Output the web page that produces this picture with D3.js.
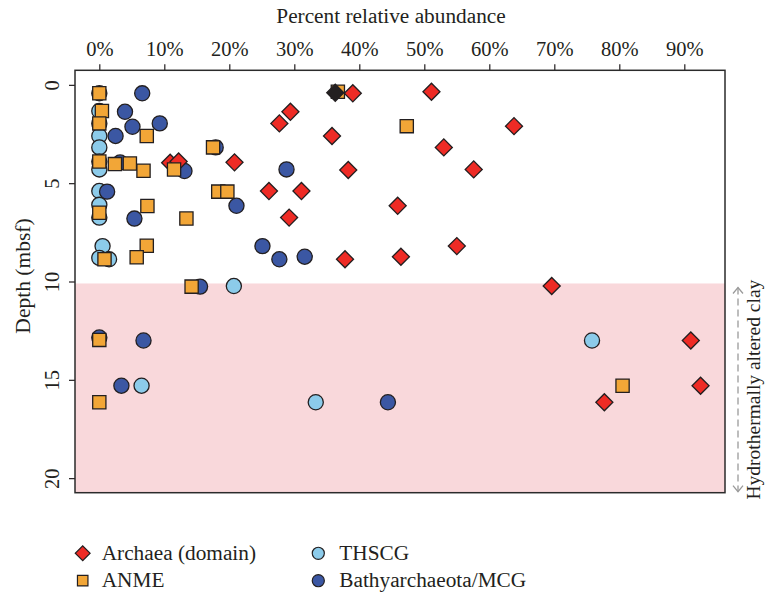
<!DOCTYPE html>
<html>
<head>
<meta charset="utf-8">
<script src="https://cdn.jsdelivr.net/npm/d3@7"></script>
<style>
  html, body { margin: 0; padding: 0; background: #fff; }
  svg { display: block; }
  text { font-family: "Liberation Serif", "DejaVu Serif", serif; fill: #231F20; }
</style>
</head>
<body>
<svg id="chart" width="765" height="592"></svg>
<script>
// Percent relative abundance (x) versus sample depth in mbsf (y)
const archaea = [
  [39.0, 0.43], [51.1, 0.35], [29.4, 1.37], [27.7, 1.96], [63.8, 2.10], [35.8, 2.60],
  [53.0, 3.18], [10.9, 3.96], [12.2, 3.90], [20.8, 3.94], [38.3, 4.33], [57.6, 4.30],
  [26.1, 5.40], [31.1, 5.40], [45.9, 6.15], [29.2, 6.75], [55.0, 8.20], [37.8, 8.87],
  [46.4, 8.74], [69.6, 10.23], [91.0, 13.00], [92.5, 15.30], [77.7, 16.14]
];
const archaeaSurface = [[36.3, 0.40]];
const anme = [
  [0, 0.43], [36.7, 0.35], [0.4, 1.33], [0, 1.96], [7.3, 2.60], [47.3, 2.10],
  [17.5, 3.18], [0, 3.90], [2.4, 4.03], [4.7, 4.00], [6.8, 4.37], [11.5, 4.30],
  [18.3, 5.43], [19.7, 5.43], [7.4, 6.16], [0, 6.50], [13.4, 6.80], [7.3, 8.18],
  [0.8, 8.87], [5.75, 8.77], [14.2, 10.26], [0, 12.97], [80.5, 15.30], [0, 16.14]
];
const thscg = [
  [0, 1.33], [0, 1.96], [0, 2.60], [0, 3.18], [0, 3.90], [0, 4.30], [0, 5.40],
  [0, 6.10], [0, 6.75], [0.5, 8.20], [0, 8.80], [1.5, 8.87], [20.7, 10.23],
  [75.8, 13.00], [6.5, 15.30], [33.3, 16.14]
];
const bathy = [
  [0, 0.43], [6.6, 0.43], [3.95, 1.37], [5.1, 2.13], [9.3, 1.96], [2.5, 2.60],
  [17.9, 3.18], [3.2, 3.95], [13.1, 4.38], [28.8, 4.30], [1.2, 5.43], [21.1, 6.15],
  [5.4, 6.80], [25.1, 8.20], [27.7, 8.87], [31.6, 8.74], [15.5, 10.26], [0, 12.85],
  [6.8, 13.00], [3.4, 15.30], [44.4, 16.14]
];
const xTicks = [0, 10, 20, 30, 40, 50, 60, 70, 80, 90];
const yTicks = [0, 5, 10, 15, 20];
const clayTop = 10.1;
const legendItems = [
  { label: "Archaea (domain)", shape: "diamond", color: "#EE2B25" },
  { label: "ANME", shape: "square", color: "#F2A637" },
  { label: "THSCG", shape: "circle", color: "#8CCBEA" },
  { label: "Bathyarchaeota/MCG", shape: "circle", color: "#3B57A3" }
];

const svg = d3.select("#chart");
const box = { left: 75, right: 725, top: 70.3, bottom: 492.7 };

const x = d3.scaleLinear().domain([-3.74, 96.26]).range([box.left, box.right]);
const y = d3.scaleLinear().domain([-0.74, 20.74]).range([box.top, box.bottom]);

const ink = "#231F20";

// Hydrothermally altered clay zone
svg.append("rect")
  .attr("x", box.left).attr("y", y(clayTop))
  .attr("width", box.right - box.left).attr("height", box.bottom - y(clayTop))
  .attr("fill", "#F9D8DB");

// Axes
const xAxis = d3.axisTop(x).tickValues(xTicks).tickFormat(d => d + "%").tickSize(6).tickPadding(8);
const gx = svg.append("g").attr("transform", `translate(0,${box.top})`).call(xAxis);
gx.select(".domain").remove();
gx.selectAll(".tick line").attr("stroke", ink).attr("stroke-width", 1.2);
gx.selectAll(".tick text").attr("font-size", 20.5).attr("fill", ink)
  .style("font-family", '"Liberation Serif", serif');

const yAxis = d3.axisLeft(y).tickValues(yTicks).tickSize(6).tickPadding(0);
const gy = svg.append("g").attr("transform", `translate(${box.left},0)`).call(yAxis);
gy.select(".domain").remove();
gy.selectAll(".tick line").attr("stroke", ink).attr("stroke-width", 1.2);
gy.selectAll(".tick text")
  .attr("font-size", 20.5).attr("fill", ink)
  .style("font-family", '"Liberation Serif", serif')
  .attr("text-anchor", "middle")
  .attr("dy", 0)
  .attr("x", 0)
  .attr("transform", "translate(-16,0) rotate(-90)");

// Plot frame
svg.append("rect")
  .attr("x", box.left).attr("y", box.top)
  .attr("width", box.right - box.left).attr("height", box.bottom - box.top)
  .attr("fill", "none").attr("stroke", "#2b2b2b").attr("stroke-width", 1.5);

// Axis titles
svg.append("text").attr("x", 391).attr("y", 23)
  .attr("text-anchor", "middle").attr("font-size", 21.3)
  .text("Percent relative abundance");
svg.append("text")
  .attr("transform", "translate(30,276) rotate(-90)")
  .attr("text-anchor", "middle").attr("font-size", 21.5)
  .text("Depth (mbsf)");

// Marker helpers
const symCircle = d3.symbol().type(d3.symbolCircle).size(180);
const symSquare = d3.symbol().type(d3.symbolSquare).size(175);
const symDiamond = d3.symbol().type(d3.symbolSquare).size(145);

function drawSeries(data, path, color, rotate) {
  svg.append("g").selectAll("path").data(data).join("path")
    .attr("d", path)
    .attr("transform", d => `translate(${x(d[0])},${y(d[1])})` + (rotate ? " rotate(45)" : ""))
    .attr("fill", color)
    .attr("stroke", ink)
    .attr("stroke-width", 1.3);
}

drawSeries(thscg, symCircle, legendItems[2].color, false);
drawSeries(bathy, symCircle, legendItems[3].color, false);
drawSeries(archaea, symDiamond, legendItems[0].color, true);
drawSeries(anme, symSquare, legendItems[1].color, false);
drawSeries(archaeaSurface, symDiamond, ink, true);

// Clay interval marker on the right
const arrowX = 738;
const yA = y(clayTop) + 4, yB = box.bottom - 1;
svg.append("line")
  .attr("x1", arrowX).attr("x2", arrowX).attr("y1", yA).attr("y2", yB)
  .attr("stroke", "#9a9a9a").attr("stroke-width", 1.3).attr("stroke-dasharray", "7,4");
svg.append("path")
  .attr("d", `M${arrowX - 5},${yA + 6} L${arrowX},${yA} L${arrowX + 5},${yA + 6}`)
  .attr("fill", "none").attr("stroke", "#9a9a9a").attr("stroke-width", 1.3);
svg.append("path")
  .attr("d", `M${arrowX - 5},${yB - 6} L${arrowX},${yB} L${arrowX + 5},${yB - 6}`)
  .attr("fill", "none").attr("stroke", "#9a9a9a").attr("stroke-width", 1.3);
svg.append("text")
  .attr("transform", `translate(759.5,${(yA + yB) / 2}) rotate(-90)`)
  .attr("text-anchor", "middle").attr("font-size", 19.5)
  .text("Hydrothermally altered clay");

// Legend
const legPos = [
  { mx: 82.7, my: 553.3, tx: 101.7 },
  { mx: 82.7, my: 580.7, tx: 101.7 },
  { mx: 318.3, my: 553.3, tx: 339.3 },
  { mx: 318.3, my: 580.7, tx: 339.3 }
];
const legSym = {
  diamond: d3.symbol().type(d3.symbolSquare).size(110),
  square: d3.symbol().type(d3.symbolSquare).size(110),
  circle: d3.symbol().type(d3.symbolCircle).size(115)
};
const leg = svg.append("g").selectAll("g").data(legendItems).join("g")
  .attr("transform", (d, i) => `translate(${legPos[i].mx},${legPos[i].my})`);
leg.append("path")
  .attr("d", d => legSym[d.shape]())
  .attr("transform", d => d.shape === "diamond" ? "rotate(45)" : null)
  .attr("fill", d => d.color).attr("stroke", ink).attr("stroke-width", 1.2);
leg.append("text")
  .attr("x", (d, i) => legPos[i].tx - legPos[i].mx)
  .attr("y", 6.5)
  .attr("font-size", 21.3)
  .text(d => d.label);
</script>
</body>
</html>
